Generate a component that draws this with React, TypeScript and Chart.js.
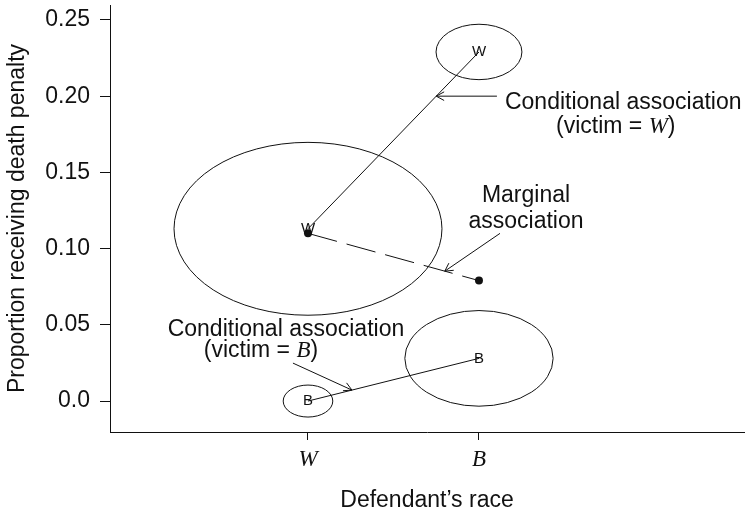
import React, { useEffect, useRef } from 'react';
import { Chart, registerables } from 'chart.js';

Chart.register(...registerables);

// ---- data ----
const defendantRace = ['W', 'B'];
const defendantX = [1, 2];
const victimWhiteProp = [0.113, 0.229];
const victimWhiteN = [467, 48];
const victimBlackProp = [0.0, 0.028];
const victimBlackN = [16, 143];
const marginalProp = [0.11, 0.079];
const yTickValues = [0, 0.05, 0.1, 0.15, 0.2, 0.25];
const yTickLabels = ['0.0', '0.05', '0.10', '0.15', '0.20', '0.25'];

// ---- style ----
const SANS = '"Liberation Sans", Arial, Helvetica, sans-serif';
const SERIF = '"Liberation Serif", "Times New Roman", serif';
const INK = '#111';
const FONT_SIZE = 23;

type Seg = { t: string; italic?: boolean };
type TextLine = { segs: Seg[]; x: number; y: number; align: 'left' | 'center' };
type Note = {
  lines: TextLine[];
  arrowFrom: { x: number; y: number | null };
  arrowOn: { ys: number[]; t: number };
};

const notes: Note[] = [
  {
    lines: [
      { segs: [{ t: 'Conditional association' }], x: 2.152, y: 0.196, align: 'left' },
      { segs: [{ t: '(victim = ' }, { t: 'W', italic: true }, { t: ')' }], x: 2.8, y: 0.18, align: 'center' },
    ],
    arrowFrom: { x: 2.105, y: null },
    arrowOn: { ys: victimWhiteProp, t: 0.75 },
  },
  {
    lines: [
      { segs: [{ t: 'Marginal' }], x: 2.275, y: 0.1345, align: 'center' },
      { segs: [{ t: 'association' }], x: 2.275, y: 0.1175, align: 'center' },
    ],
    arrowFrom: { x: 2.123, y: 0.11 },
    arrowOn: { ys: marginalProp, t: 0.8 },
  },
  {
    lines: [
      { segs: [{ t: 'Conditional association' }], x: 0.871, y: 0.0466, align: 'center' },
      { segs: [{ t: '(victim = ' }, { t: 'B', italic: true }, { t: ')' }], x: 0.725, y: 0.0328, align: 'center' },
    ],
    arrowFrom: { x: 0.912, y: 0.0249 },
    arrowOn: { ys: victimBlackProp, t: 0.257 },
  },
];

function drawRich(ctx: CanvasRenderingContext2D, line: TextLine, px: number, py: number) {
  const fonts = line.segs.map((s) => (s.italic ? `italic ${FONT_SIZE}px ${SERIF}` : `${FONT_SIZE}px ${SANS}`));
  const widths = line.segs.map((s, i) => {
    ctx.font = fonts[i];
    return ctx.measureText(s.t).width;
  });
  const total = widths.reduce((a, b) => a + b, 0);
  let cx = line.align === 'center' ? px - total / 2 : px;
  ctx.textAlign = 'left';
  ctx.textBaseline = 'middle';
  line.segs.forEach((s, i) => {
    ctx.font = fonts[i];
    ctx.fillText(s.t, cx, py);
    cx += widths[i];
  });
}

function drawArrow(ctx: CanvasRenderingContext2D, x0: number, y0: number, x1: number, y1: number) {
  ctx.beginPath();
  ctx.moveTo(x0, y0);
  ctx.lineTo(x1, y1);
  const a = Math.atan2(y1 - y0, x1 - x0);
  const L = 9;
  const h = 0.5;
  ctx.moveTo(x1 + L * Math.cos(a + Math.PI - h), y1 + L * Math.sin(a + Math.PI - h));
  ctx.lineTo(x1, y1);
  ctx.lineTo(x1 + L * Math.cos(a + Math.PI + h), y1 + L * Math.sin(a + Math.PI + h));
  ctx.stroke();
}

const decorPlugin = {
  id: 'decor',
  beforeDatasetsDraw(chart: any) {
    const { ctx, scales } = chart;
    const x = scales.x;
    const y = scales.y;
    ctx.save();
    ctx.strokeStyle = INK;
    ctx.lineWidth = 1;
    const groups: [number[], number[]][] = [
      [victimWhiteProp, victimWhiteN],
      [victimBlackProp, victimBlackN],
    ];
    for (const [p, n] of groups) {
      for (let i = 0; i < p.length; i++) {
        const cx = x.getPixelForValue(defendantX[i]);
        const cy = y.getPixelForValue(p[i]);
        const s = Math.sqrt(n[i]);
        ctx.beginPath();
        ctx.ellipse(cx, cy, 6.2 * s, 4.0 * s, 0, 0, Math.PI * 2);
        ctx.stroke();
      }
    }
    ctx.restore();
  },
  afterDatasetsDraw(chart: any) {
    const { ctx, scales } = chart;
    const x = scales.x;
    const y = scales.y;
    ctx.save();
    ctx.fillStyle = INK;
    ctx.strokeStyle = INK;
    ctx.lineWidth = 1;
    // victim-race letters at conditional points
    ctx.font = `15px ${SANS}`;
    ctx.textAlign = 'center';
    ctx.textBaseline = 'middle';
    const letterSets: [number[], string][] = [
      [victimWhiteProp, 'W'],
      [victimBlackProp, 'B'],
    ];
    for (const [p, letter] of letterSets) {
      for (let i = 0; i < p.length; i++) {
        ctx.fillText(letter, x.getPixelForValue(defendantX[i]), y.getPixelForValue(p[i]));
      }
    }
    // annotations
    for (const note of notes) {
      for (const line of note.lines) {
        drawRich(ctx, line, x.getPixelForValue(line.x), y.getPixelForValue(line.y));
      }
      const { ys, t } = note.arrowOn;
      const ax0 = x.getPixelForValue(defendantX[0]);
      const ax1 = x.getPixelForValue(defendantX[1]);
      const ay0 = y.getPixelForValue(ys[0]);
      const ay1 = y.getPixelForValue(ys[1]);
      const tipX = ax0 + (ax1 - ax0) * t;
      const tipY = ay0 + (ay1 - ay0) * t;
      const fromX = x.getPixelForValue(note.arrowFrom.x);
      const fromY = note.arrowFrom.y === null ? tipY : y.getPixelForValue(note.arrowFrom.y);
      drawArrow(ctx, fromX, fromY, tipX, tipY);
    }
    ctx.restore();
  },
};

export default function App() {
  const ref = useRef<HTMLCanvasElement | null>(null);

  useEffect(() => {
    if (!ref.current) return;
    const chart = new Chart(ref.current, {
      type: 'scatter',
      data: {
        datasets: [
          {
            label: 'Conditional (victim = W)',
            data: defendantX.map((v, i) => ({ x: v, y: victimWhiteProp[i] })),
            showLine: true,
            borderColor: INK,
            borderWidth: 1,
            pointRadius: 0,
          },
          {
            label: 'Conditional (victim = B)',
            data: defendantX.map((v, i) => ({ x: v, y: victimBlackProp[i] })),
            showLine: true,
            borderColor: INK,
            borderWidth: 1,
            pointRadius: 0,
          },
          {
            label: 'Marginal',
            data: defendantX.map((v, i) => ({ x: v, y: marginalProp[i] })),
            showLine: true,
            borderColor: INK,
            borderWidth: 1,
            borderDash: [30, 10],
            pointRadius: 4,
            pointBackgroundColor: INK,
            pointBorderColor: INK,
            pointBorderWidth: 0,
          },
        ],
      },
      options: {
        animation: false,
        responsive: false,
        events: [],
        layout: { padding: { top: 5, left: 0, right: 0, bottom: 0 } },
        plugins: { legend: { display: false }, tooltip: { enabled: false } },
        scales: {
          x: {
            type: 'linear',
            min: -0.158,
            max: 3.55,
            afterBuildTicks: (s: any) => {
              s.ticks = defendantX.map((v) => ({ value: v }));
            },
            afterFit: (s: any) => {
              s.height = 85;
              s.paddingLeft = 0;
              s.paddingRight = 0;
            },
            ticks: {
              callback: (v: any) => {
                const i = defendantX.indexOf(Number(v));
                return i >= 0 ? defendantRace[i] : '';
              },
              font: { family: SERIF, style: 'italic', size: FONT_SIZE },
              color: INK,
              padding: 6,
              maxRotation: 0,
              autoSkip: false,
            },
            grid: { display: true, drawOnChartArea: false, drawTicks: true, tickLength: 8, tickColor: INK, color: INK },
            border: { display: true, color: INK, width: 1 },
            title: {
              display: true,
              text: 'Defendant’s race',
              font: { family: SANS, size: FONT_SIZE },
              color: INK,
              padding: { top: 0, bottom: 3 },
            },
          },
          y: {
            type: 'linear',
            min: -0.0203,
            max: 0.2598,
            afterBuildTicks: (s: any) => {
              s.ticks = yTickValues.map((v) => ({ value: v }));
            },
            afterFit: (s: any) => {
              s.width = 110;
              s.paddingTop = 0;
              s.paddingBottom = 0;
            },
            ticks: {
              callback: (_v: any, i: number) => yTickLabels[i],
              font: { family: SANS, size: FONT_SIZE },
              color: INK,
              padding: 10,
              autoSkip: false,
            },
            grid: { display: true, drawOnChartArea: false, drawTicks: true, tickLength: 10, tickColor: INK, color: INK },
            border: { display: true, color: INK, width: 1 },
            title: {
              display: true,
              text: 'Proportion receiving death penalty',
              font: { family: SANS, size: FONT_SIZE },
              color: INK,
              padding: { top: 4, bottom: 0 },
            },
          },
        },
      },
      plugins: [decorPlugin],
    } as any);
    return () => chart.destroy();
  }, []);

  return (
    <div style={{ position: 'fixed', left: 0, top: 0, width: 748, height: 517, background: '#fff' }}>
      <canvas ref={ref} width={748} height={517} style={{ display: 'block', width: 748, height: 517 }} />
    </div>
  );
}
